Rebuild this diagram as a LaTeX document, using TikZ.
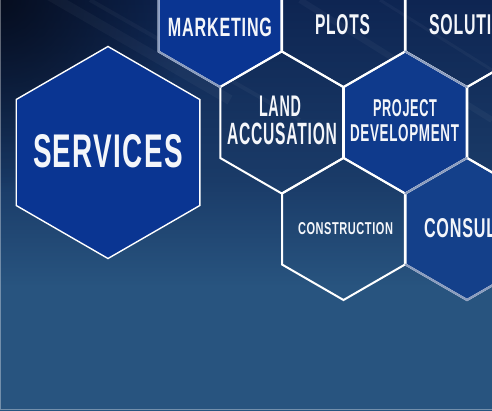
\documentclass[tikz,border=0pt]{standalone}
\usepackage{fontspec}
\usepackage{graphicx}
\newfontfamily\hexfont[LetterSpace=5]{Liberation Sans}
\usetikzlibrary{shapes.geometric,calc,fadings}
\definecolor{bgtop}{HTML}{0E2552}
\definecolor{bgmid}{HTML}{1A3B68}
\definecolor{bgbot}{HTML}{28547F}
\definecolor{bgdark}{HTML}{050B1A}
\definecolor{hexblue}{HTML}{0A3592}
\definecolor{hexblueb}{HTML}{0F3A8C}
\definecolor{hexbluec}{HTML}{14408A}
\definecolor{edgegray}{HTML}{8A9CBE}
\definecolor{txt}{HTML}{F4F6FA}
\pgfdeclareverticalshading{bgshade}{100bp}{color(0bp)=(bgbot); color(40bp)=(bgbot); color(53bp)=(bgmid); color(75bp)=(bgtop); color(100bp)=(bgtop)}
\tikzfading[name=cornerfade, inner color=transparent!0, outer color=transparent!100]
\newcommand\fitword[3]{\resizebox{#1pt}{#2pt}{\hexfont\bfseries #3}}
\tikzset{
  hexcell/.style={regular polygon, regular polygon sides=6, shape border rotate=30,
    inner sep=0pt, outer sep=0pt, minimum size=142pt, draw=white, line width=2pt},
  bluehex/.style={hexcell, fill=#1},
  lbl/.style={inner sep=0pt, outer sep=0pt, text=txt},
  grayedge/.style={draw=edgegray, line width=2pt, line cap=round},
  streak/.style={white, line width=#1, opacity=0.035}
}
\begin{document}
\begin{tikzpicture}[x=1pt,y=-1pt]
\useasboundingbox (0,0) rectangle (492,410);
\begin{scope}
\clip (0,0) rectangle (492,410);
% background
\shade[shading=bgshade] (0,0) rectangle (492,410);
\fill[bgdark, path fading=cornerfade, opacity=0.9] (0,0) circle (190);
\draw[streak=10pt] (40,-10) -- (230,100);
\draw[streak=4pt] (90,0) -- (300,120);
\draw[streak=6pt] (300,0) -- (492,120);
\draw[streak=3pt] (380,0) -- (492,70);
% blue hexagons
\node[bluehex=hexblue, minimum size=212pt, line width=1.4pt] (services) at (108,152.5) {};
\node[bluehex=hexblue] (marketing) at (220,16) {};
\node[bluehex=hexblueb] (project) at (405.25,122.5) {};
\node[bluehex=hexbluec] (consulting) at (467,229) {};
% outlined hexagons
\node[hexcell] (plots) at (343.5,16) {};
\node[hexcell] (solutions) at (467,16) {};
\node[hexcell] (land) at (281.75,122.5) {};
\node[hexcell] (rightmid) at (528.75,122.5) {};
\node[hexcell] (construction) at (343.5,229) {};
% grey outer edges
\draw[grayedge] ($(marketing.center)+(270:71)$) -- ($(marketing.center)+(210:71)$) -- ($(marketing.center)+(150:71)$) -- ($(marketing.center)+(90:71)$);
\draw[grayedge] ($(project.center)+(270:71)$) -- ($(project.center)+(330:71)$);
\draw[grayedge] ($(project.center)+(30:71)$) -- ($(project.center)+(90:71)$);
\draw[grayedge] ($(consulting.center)+(150:71)$) -- ($(consulting.center)+(90:71)$) -- ($(consulting.center)+(30:71)$);
% labels
\node[lbl] (tservices) at (108,151.5) {\fitword{150}{33}{SERVICES}};
\node[lbl] (tmarketing) at (220,27.5) {\fitword{104}{18.5}{MARKETING}};
\node[lbl] (tplots) at (342.5,25) {\fitword{55}{20}{PLOTS}};
\node[lbl, anchor=west] (tsolutions) at (429,25) {\fitword{99}{20}{SOLUTIONS}};
\node[lbl] (tland) at (280,106.5) {\fitword{42}{20.5}{LAND}};
\node[lbl] (taccusation) at (282,134) {\fitword{110}{21.5}{ACCUSATION}};
\node[lbl] (tproject) at (405,108.5) {\fitword{64}{17}{PROJECT}};
\node[lbl] (tdevelopment) at (404.5,133.5) {\fitword{109}{17}{DEVELOPMENT}};
\node[lbl] (tconstruction) at (345.5,229) {\fitword{95}{12}{CONSTRUCTION}};
\node[lbl, anchor=west] (tconsulting) at (424,228.5) {\fitword{113}{19}{CONSULTING}};
% thin frame
\draw[white, opacity=0.35, line width=1pt] (0.5,0) -- (0.5,409.5) -- (492,409.5);
\end{scope}
\end{tikzpicture}
\end{document}
